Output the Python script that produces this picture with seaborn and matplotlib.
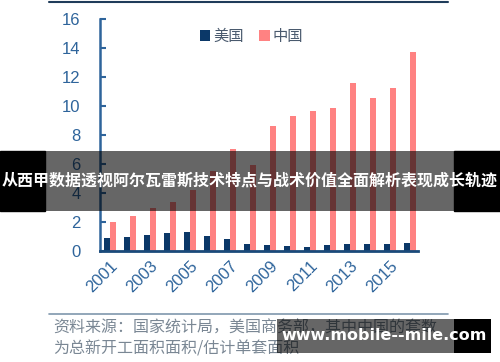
import matplotlib

matplotlib.use('Agg')
import matplotlib.pyplot as plt
import seaborn as sns
import pandas as pd
from matplotlib.patches import Rectangle
from matplotlib.lines import Line2D

# --- data ---
years = [str(y) for y in range(2001, 2017)]
usa = [0.92, 0.99, 1.10, 1.22, 1.29, 1.06, 0.81, 0.48, 0.39, 0.33, 0.31, 0.38, 0.45, 0.45, 0.49, 0.56]
china = [2.02, 2.39, 2.99, 3.40, 4.20, 5.54, 7.01, 5.93, 8.62, 9.33, 9.66, 9.84, 11.56, 10.53, 11.26, 13.74]
series_names = ['美国', '中国']
tick_years = years[::2]
source_lines = ['资料来源：国家统计局，美国商务部，其中中国的套数',
                '为总新开工面积面积/估计单套面积']
banner_text = '从西甲数据透视阿尔瓦雷斯技术特点与战术价值全面解析表现成长轨迹'
watermark_text = 'www.mobile--mile.com'

df = pd.DataFrame({
    'year': years * 2,
    'value': usa + china,
    'country': [series_names[0]] * len(years) + [series_names[1]] * len(years),
})

sns.set_style('white')
plt.rcParams['font.family'] = ['Liberation Sans', 'Noto Sans CJK SC', 'DejaVu Sans']

navy = '#0B3868'
salmon = '#FF8282'
axis_blue = '#2E649B'
text_grey = '#7A8794'

fig = plt.figure(figsize=(5, 3.62), dpi=100)
ax = fig.add_axes([0.2, 0.3066, 0.636, 0.641])

sns.barplot(data=df, x='year', y='value', hue='country', order=years,
            hue_order=series_names, palette=[navy, salmon], width=0.6,
            gap=0, saturation=1, edgecolor='none', ax=ax)

ax.set_ylim(0, 16)
ax.set_yticks(range(0, 17, 2))
ax.set_xlim(-0.5, 15.4)
ax.set_xlabel('')
ax.set_ylabel('')
ax.set_xticks(range(0, 16, 2))
ax.set_xticklabels(tick_years, rotation=45, ha='right', rotation_mode='anchor')
ax.tick_params(axis='x', length=0, pad=5, labelsize=12, labelcolor=axis_blue)
ax.tick_params(axis='y', direction='in', length=4, width=1.5, color=axis_blue,
               pad=14, labelsize=12, labelcolor=axis_blue, left=True)
ax.spines['top'].set_visible(False)
ax.spines['right'].set_visible(False)
ax.spines['left'].set_color(axis_blue)
ax.spines['left'].set_linewidth(1.8)
ax.spines['bottom'].set_color('#1A4A7A')
ax.spines['bottom'].set_linewidth(2)
ax.set_facecolor('white')

ax.legend(loc='upper left', bbox_to_anchor=(0.27, 1.02), ncol=2, frameon=False,
          handlelength=0.7, handleheight=0.7, handletextpad=0.2,
          columnspacing=1.0, prop={'family': 'Noto Sans CJK SC', 'size': 11},
          labelcolor='#4A5A6E')

# frame lines above and below the chart
fig.add_artist(Line2D([49 / 500, 448 / 500], [1 - 1.5 / 362] * 2, color='#1F3C5A', lw=1.5))
fig.add_artist(Line2D([49 / 500, 448 / 500], [1 - 314 / 362] * 2, color='#7F97AD', lw=1.2))

# source note
for i, line in enumerate(source_lines):
    fig.text(53 / 500, 1 - (328 + 21 * i) / 362, line, color=text_grey, fontsize=11.5,
             family='Noto Sans CJK SC', va='center', ha='left')

# banner over the middle of the chart
by0, by1 = 1 - 211 / 362, 1 - 151 / 362
fig.add_artist(Rectangle((0, by0), 45 / 500, by1 - by0, transform=fig.transFigure,
                         color='black', zorder=5))
fig.add_artist(Rectangle((454 / 500, by0), 46 / 500, by1 - by0, transform=fig.transFigure,
                         color='black', zorder=5))
fig.add_artist(Rectangle((45 / 500, by0), 409 / 500, by1 - by0, transform=fig.transFigure,
                         color='black', alpha=0.6, lw=0, zorder=5))
fig.text(0.5, (by0 + by1) / 2, banner_text, color='white', fontsize=11.5,
         fontweight='bold', family='Noto Sans CJK SC', ha='center', va='center', zorder=6)

# watermark box
wy0, wy1 = 1 - 353 / 362, 1 - 319 / 362
fig.add_artist(Rectangle((277 / 500, wy0), 177 / 500, wy1 - wy0, transform=fig.transFigure,
                         color='black', alpha=0.6, lw=0, zorder=5))
fig.add_artist(Rectangle((454 / 500, wy0), 37 / 500, wy1 - wy0, transform=fig.transFigure,
                         color='black', lw=0, zorder=5))
fig.text(384 / 500, (wy0 + wy1) / 2, watermark_text, color='white', fontsize=11.5,
         fontweight='bold', family='DejaVu Sans', ha='center', va='center', zorder=6)

fig.savefig('out.png', dpi=100, facecolor='white')
